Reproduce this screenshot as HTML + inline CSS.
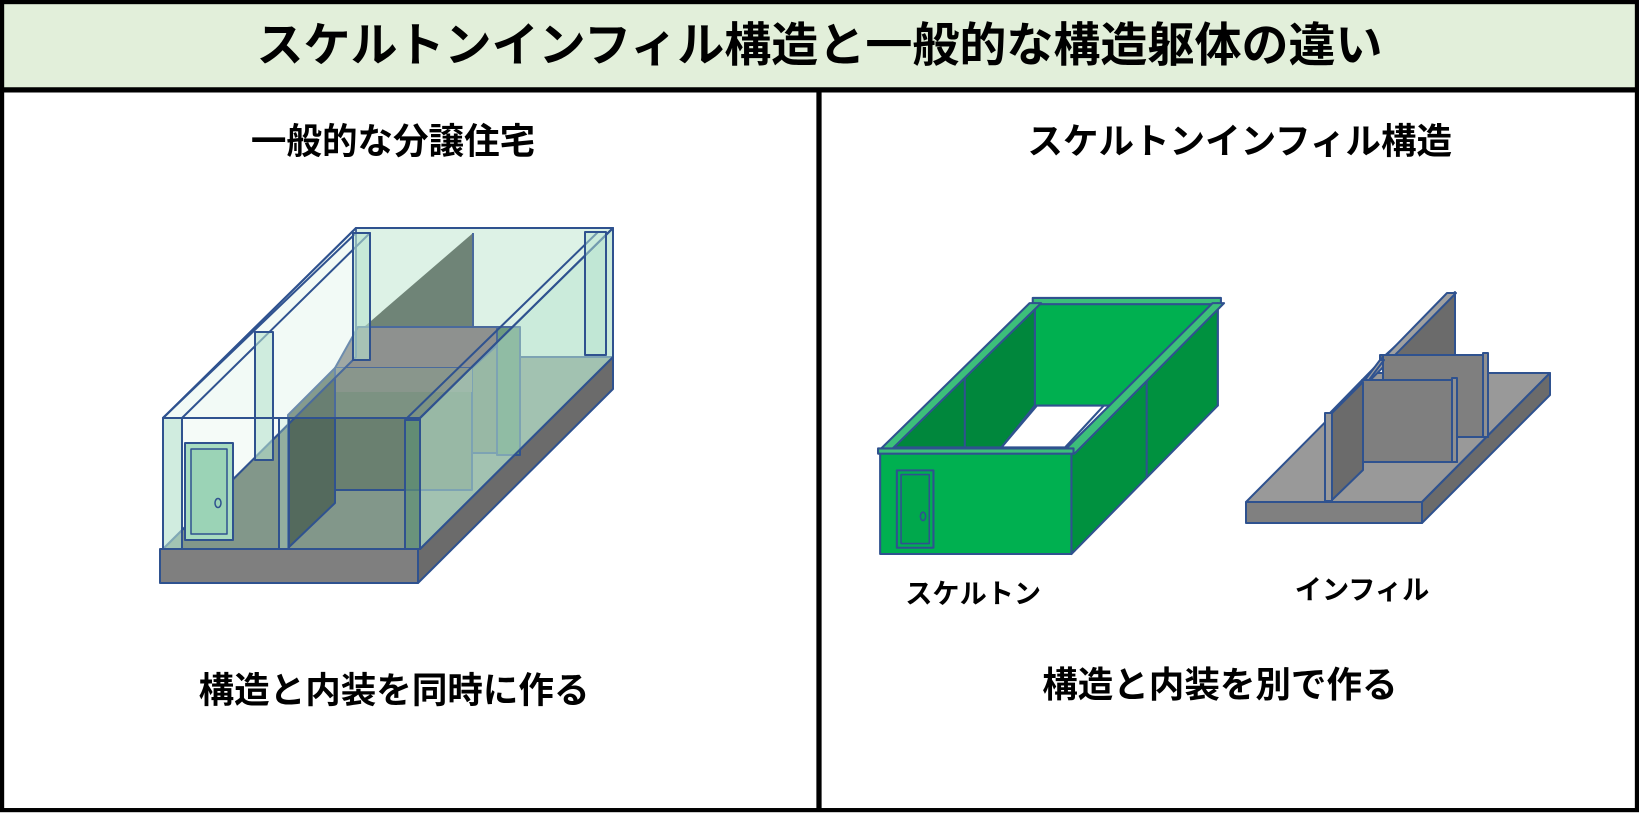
<!DOCTYPE html>
<html><head><meta charset="utf-8"><style>
html,body{margin:0;padding:0;background:#fff;}
svg{display:block;}
text{font-family:"Liberation Sans","Noto Sans CJK JP",sans-serif;font-weight:bold;fill:#000;}
</style></head><body>
<svg width="1639" height="814" viewBox="0 0 1639 814" xmlns="http://www.w3.org/2000/svg">
<rect x="0" y="0" width="1639" height="814" fill="#fff"/>
<g transform="scale(1.0453)">
  <rect x="0" y="0" width="1568" height="86" fill="#e2efda"/>
  <rect x="2" y="2" width="1564" height="773" fill="none" stroke="#000" stroke-width="4"/>
  <line x1="0" y1="86" x2="1568" y2="86" stroke="#000" stroke-width="5"/>
  <line x1="783.5" y1="86" x2="783.5" y2="776" stroke="#000" stroke-width="5"/>
  <text x="784" y="59" font-size="45" text-anchor="middle">スケルトンインフィル構造と一般的な構造躯体の違い</text>
  <text x="376" y="147" font-size="34" text-anchor="middle">一般的な分譲住宅</text>
  <text x="1186" y="147" font-size="34" text-anchor="middle">スケルトンインフィル構造</text>
  <text x="377" y="672" font-size="34" text-anchor="middle">構造と内装を同時に作る</text>
  <text x="1167" y="667" font-size="34" text-anchor="middle">構造と内装を別で作る</text>
  <text x="931" y="577" font-size="26" text-anchor="middle">スケルトン</text>
  <text x="1303" y="573" font-size="26" text-anchor="middle">インフィル</text>

  <g stroke="#2f528f" stroke-width="2" stroke-linejoin="round">
    <rect x="990" y="288" width="175" height="100" fill="#00b050"/>
    <rect x="988" y="285" width="180" height="6" fill="#3cbf7a"/>
    <polygon points="958,428 992,388 1056,388 1019,428" fill="#fff" stroke="#2f528f"/>
    <polygon points="847,428 990,290 990,388 958,428" fill="#00873c"/>
    <line x1="923" y1="361" x2="923" y2="428"/>
    <polygon points="841,431 985,290 996,290 852,431" fill="#3cbf7a"/>
    <polygon points="1025,432 1165,290 1165,388 1025,530" fill="#00913f"/>
    <line x1="1097" y1="360" x2="1097" y2="456"/>
    <polygon points="1016,433 1160,290 1171,290 1028,434" fill="#3cbf7a"/>
    <rect x="842" y="432" width="183" height="98" fill="#00b050"/>
    <rect x="840" y="429" width="187" height="5" fill="#3cbf7a"/>
    <rect x="858" y="450" width="35" height="74" fill="#00b050"/>
    <rect x="862" y="454" width="27" height="66" fill="#00a84c" stroke-width="1.5"/>
    <ellipse cx="883" cy="494" rx="2.5" ry="4" fill="none" stroke-width="1.5"/>
  </g>
</g>

<g stroke="#2f528f" stroke-width="2" stroke-linejoin="round">
  <polygon points="1246,502 1422,502 1550,373 1374,373" fill="#999999"/>
  <rect x="1246" y="502" width="176" height="21" fill="#808080"/>
  <polygon points="1422,502 1550,373 1550,395 1422,523" fill="#6b6b6b"/>
  <polygon points="1380,360 1455,292 1455,355 1380,355" fill="#6b6b6b"/>
  <polygon points="1330,413 1447,293 1456,293 1338,413" fill="#a0a0a0"/>
  <rect x="1383" y="355" width="105" height="82" fill="#7f7f7f"/>
  <rect x="1483" y="353" width="5" height="84" fill="#909090"/>
  <polygon points="1362,384 1380,360 1384,360 1366,384" fill="#a0a0a0"/>
  <rect x="1362" y="380" width="95" height="82" fill="#7f7f7f"/>
  <rect x="1452" y="378" width="5" height="84" fill="#909090"/>
  <polygon points="1332,413 1363,382 1363,470 1332,500" fill="#6b6b6b"/>
  <rect x="1325" y="413" width="7" height="88" fill="#9a9a9a"/>
</g>

<g stroke="#2f528f" stroke-width="2" stroke-linejoin="round">
  <rect x="160" y="549" width="258" height="34" fill="#7f7f7f"/>
  <polygon points="418,549 613,355 613,389 418,583" fill="#6b6b6b"/>
  <polygon points="163,549 420,549 613,357 356,357" fill="#82978a"/>
  <rect x="356" y="228" width="257" height="129" fill="#dcf1e6"/>
  <polygon points="357,333 473,233 473,360 357,360" fill="#5b7063" stroke="none"/>
  <line x1="473" y1="233" x2="473" y2="360"/>
  <rect x="358" y="327" width="159" height="126" fill="#6a8070"/>
  <polygon points="335,368 472,368 517,327 358,327" fill="#7f7f7f"/>
  <rect x="335" y="368" width="137" height="122" fill="#6a8070"/>
  <polygon points="335,368 472,368 472,392 335,392" fill="#7a857c" stroke="none"/>
  <polygon points="288,415 335,368 335,503 288,548" fill="#546a5d"/>
  <rect x="497" y="327" width="23" height="128" fill="#5a8a6e"/>
  <polygon points="163,418 356,228 356,357 163,549" fill="#d6eee2" fill-opacity="0.25"/>
  <polygon points="420,418 613,228 613,357 420,549" fill="#bde5d2" fill-opacity="0.55"/>
  <polygon points="163,418 420,418 613,228 356,228" fill="#e6f5ee" fill-opacity="0.15"/>
  <polygon points="182,418 370,233 356,233 163,418" fill="none"/>
  <line x1="420" y1="418" x2="613" y2="228"/>
  <line x1="405" y1="420" x2="598" y2="232"/>
  <rect x="353" y="233" width="17" height="127" fill="#b8e3cf" fill-opacity="0.6"/>
  <rect x="255" y="332" width="18" height="128" fill="#b8e3cf" fill-opacity="0.6"/>
  <rect x="585" y="232" width="21" height="123" fill="#b8e3cf" fill-opacity="0.5"/>
  <rect x="163" y="418" width="257" height="131" fill="none"/>
  <rect x="163" y="418" width="19" height="131" fill="#b8e3cf" fill-opacity="0.6"/>
  <rect x="279" y="418" width="10" height="131" fill="#b8e3cf" fill-opacity="0.3"/>
  <rect x="405" y="420" width="15" height="129" fill="#5f9276" fill-opacity="0.7"/>
  <rect x="185" y="443" width="48" height="97" fill="#a8dcc0"/>
  <rect x="191" y="449" width="36" height="85" fill="#9bd3b6" stroke-width="1.5"/>
  <ellipse cx="218" cy="503" rx="3" ry="4.5" fill="none" stroke-width="1.5"/>
</g>
</svg>
</body></html>
